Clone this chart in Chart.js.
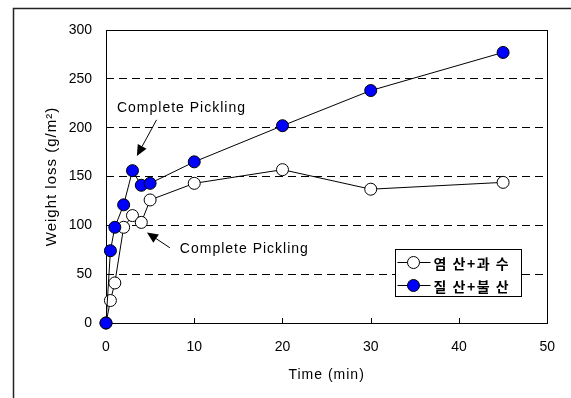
<!DOCTYPE html>
<html>
<head>
<meta charset="utf-8">
<script src="https://cdn.jsdelivr.net/npm/chart.js@4/dist/chart.umd.min.js"></script>
<style>
  html, body { margin: 0; padding: 0; background: #fff; }
  #wrap { width: 571px; height: 398px; }
</style>
</head>
<body>
<div id="wrap"><canvas id="weightChart" width="571" height="398"></canvas></div>
<script>
// Temps d'immersion (min)
const timeMin = [0, 0.5, 1, 2, 3, 4, 5, 10, 20, 30, 45];
// Perte de poids (g/m2)
const hclPeroxide = [0, 23, 41, 98, 110, 103, 126, 143, 157, 137, 144];
const nitricHf = [0, 74, 98, 121, 156, 141, 143, 165, 202, 238, 277];
const seriesNames = ['염 산+과 수', '질 산+불 산'];
const xTicks = [0, 10, 20, 30, 40, 50];
const yTicks = [0, 50, 100, 150, 200, 250, 300];

const latin = "'Liberation Sans', Arial, sans-serif";
const hangul = "'Noto Sans CJK KR', sans-serif";

// Annotations "Complete Pickling" (coordonnées en unités des axes)
const notes = [
    { text: 'Complete Pickling', tx: 1.24, ty: 220, from: [5.73, 208], to: [3.5, 171] },
    { text: 'Complete Pickling', tx: 8.37, ty: 76, from: [7.24, 77], to: [4.64, 92.6] }
];

function toPoints(ys) {
    return timeMin.map((t, i) => ({ x: t, y: ys[i] }));
}

function drawArrow(ctx, x1, y1, x2, y2) {
    const ang = Math.atan2(y2 - y1, x2 - x1);
    const len = 11, half = 5;
    const bx = x2 - len * Math.cos(ang), by = y2 - len * Math.sin(ang);
    ctx.beginPath();
    ctx.moveTo(x1, y1);
    ctx.lineTo(bx, by);
    ctx.stroke();
    ctx.beginPath();
    ctx.moveTo(x2, y2);
    ctx.lineTo(bx + half * Math.sin(ang), by - half * Math.cos(ang));
    ctx.lineTo(bx - half * Math.sin(ang), by + half * Math.cos(ang));
    ctx.closePath();
    ctx.fill();
}

// Cadre extérieur, bordure de la zone de tracé et graduations internes
const framePlugin = {
    id: 'frame',
    beforeDraw(chart) {
        const ctx = chart.ctx;
        ctx.save();
        ctx.fillStyle = '#fff';
        ctx.fillRect(0, 0, chart.width, chart.height);
        ctx.strokeStyle = '#222';
        ctx.lineWidth = 1.5;
        ctx.beginPath();
        ctx.moveTo(13.5, chart.height);
        ctx.lineTo(13.5, 8.5);
        ctx.lineTo(chart.width, 8.5);
        ctx.stroke();
        ctx.restore();
    },
    beforeDatasetsDraw(chart) {
        const { ctx, chartArea: a, scales } = chart;
        ctx.save();
        ctx.strokeStyle = '#000';
        ctx.lineWidth = 1;
        ctx.strokeRect(Math.round(a.left) + 0.5, Math.round(a.top) + 0.5,
            Math.round(a.right - a.left), Math.round(a.bottom - a.top));
        ctx.beginPath();
        xTicks.slice(1, -1).forEach(v => {
            const px = Math.round(scales.x.getPixelForValue(v)) + 0.5;
            ctx.moveTo(px, a.bottom);
            ctx.lineTo(px, a.bottom - 5);
        });
        ctx.stroke();
        ctx.restore();
    },
    afterDraw(chart) {
        const { ctx, chartArea: a, scales } = chart;
        ctx.save();
        ctx.fillStyle = '#000';
        ctx.strokeStyle = '#000';
        ctx.lineWidth = 1;

        // Titres des axes
        ctx.font = '14px ' + latin;
        ctx.letterSpacing = '1px';
        ctx.textAlign = 'center';
        ctx.textBaseline = 'middle';
        ctx.fillText('Time (min)', (a.left + a.right) / 2, 375);
        ctx.save();
        ctx.translate(52, (a.top + a.bottom) / 2);
        ctx.rotate(-Math.PI / 2);
        ctx.font = '15px ' + latin;
        ctx.fillText('Weight loss (g/m²)', 0, 0);
        ctx.restore();

        // Flèches et textes
        ctx.font = '14px ' + latin;
        ctx.textAlign = 'left';
        notes.forEach(n => {
            ctx.fillText(n.text, scales.x.getPixelForValue(n.tx), scales.y.getPixelForValue(n.ty));
            drawArrow(ctx,
                scales.x.getPixelForValue(n.from[0]), scales.y.getPixelForValue(n.from[1]),
                scales.x.getPixelForValue(n.to[0]), scales.y.getPixelForValue(n.to[1]));
        });

        // Légende
        const lx = 395.5, ly = 249.5, lw = 126, lh = 47;
        ctx.fillStyle = '#fff';
        ctx.fillRect(lx, ly, lw, lh);
        ctx.strokeRect(lx, ly, lw, lh);
        ctx.letterSpacing = '1.5px';
        chart.data.datasets.forEach((ds, i) => {
            const y = ly + 13 + i * 23;
            ctx.beginPath();
            ctx.moveTo(lx + 2, y);
            ctx.lineTo(lx + 35, y);
            ctx.stroke();
            ctx.beginPath();
            ctx.arc(lx + 18, y, 6, 0, Math.PI * 2);
            ctx.fillStyle = ds.pointBackgroundColor;
            ctx.fill();
            ctx.stroke();
            ctx.fillStyle = '#000';
            ctx.font = 'bold 14px ' + hangul;
            ctx.fillText(ds.label, lx + 38, y + 1);
        });
        ctx.restore();
    }
};

new Chart(document.getElementById('weightChart'), {
    type: 'line',
    data: {
        datasets: [
            {
                label: seriesNames[0],
                data: toPoints(hclPeroxide),
                borderColor: '#000',
                borderWidth: 1,
                pointBackgroundColor: '#fff',
                pointBorderColor: '#000',
                pointBorderWidth: 1,
                pointRadius: 6,
                clip: false,
                order: 2
            },
            {
                label: seriesNames[1],
                data: toPoints(nitricHf),
                borderColor: '#000',
                borderWidth: 1,
                pointBackgroundColor: '#0000ff',
                pointBorderColor: '#000',
                pointBorderWidth: 1,
                pointRadius: 6,
                clip: false,
                order: 1
            }
        ]
    },
    options: {
        responsive: false,
        animation: false,
        layout: { padding: { top: 30, right: 23, left: 0, bottom: 0 } },
        plugins: {
            legend: { display: false },
            tooltip: { enabled: false }
        },
        scales: {
            x: {
                type: 'linear',
                min: 0,
                max: 50,
                afterFit: s => { s.height = 75; },
                afterBuildTicks: s => { s.ticks = xTicks.map(v => ({ value: v })); },
                ticks: { color: '#000', font: { family: latin, size: 14 }, padding: 16, maxRotation: 0 },
                grid: { drawOnChartArea: false, drawTicks: false },
                border: { display: false }
            },
            y: {
                min: 0,
                max: 300,
                afterFit: s => { s.width = 106; },
                afterBuildTicks: s => { s.ticks = yTicks.map(v => ({ value: v })); },
                ticks: { color: '#000', font: { family: latin, size: 14 }, padding: 14 },
                grid: {
                    drawTicks: false,
                    color: c => (c.tick.value === 0 || c.tick.value === 300) ? 'rgba(0,0,0,0)' : '#000',
                    lineWidth: 1
                },
                border: { display: false, dash: [8, 5] }
            }
        }
    },
    plugins: [framePlugin]
});
</script>
</body>
</html>
